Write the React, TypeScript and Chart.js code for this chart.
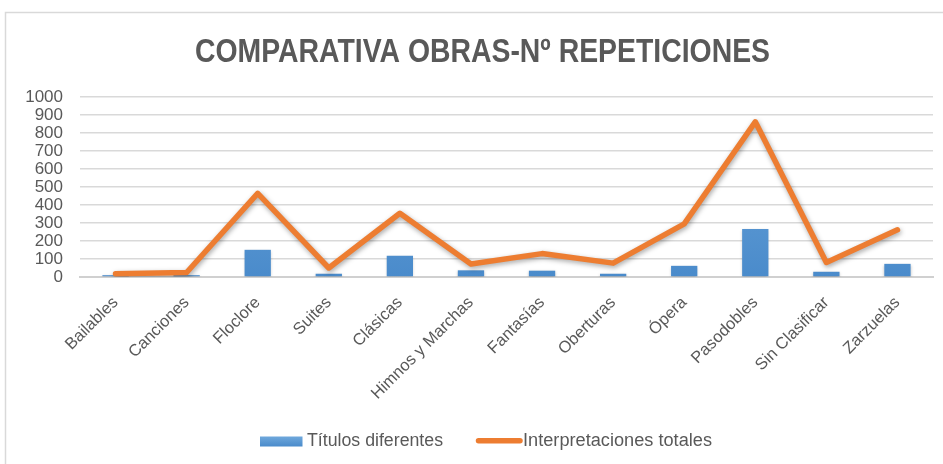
import React, { useEffect, useRef } from "react";
import { Chart, registerables } from "chart.js";

Chart.register(...registerables);

const categories = [
  "Bailables", "Canciones", "Floclore", "Suites", "Clásicas", "Himnos y Marchas",
  "Fantasías", "Oberturas", "Ópera", "Pasodobles", "Sin Clasificar", "Zarzuelas",
];
const titulosDiferentes = [10, 10, 151, 18, 118, 37, 35, 18, 62, 267, 29, 73];
const interpretacionesTotales = [18, 25, 465, 50, 354, 72, 130, 77, 295, 862, 81, 262];
const yTicks = [0, 100, 200, 300, 400, 500, 600, 700, 800, 900, 1000];

const TITLE = "COMPARATIVA OBRAS-Nº REPETICIONES";
const LEGEND_BAR = "Títulos diferentes";
const LEGEND_LINE = "Interpretaciones totales";
const GRAY = "#595959";
const BLUE = "#5B9BD5";
const ORANGE = "#ED7D31";

function fitText(ctx: CanvasRenderingContext2D, text: string, x: number, y: number, width: number, font: string) {
  ctx.save();
  ctx.font = font;
  const w = ctx.measureText(text).width;
  const s = width / w;
  ctx.translate(x, y);
  ctx.scale(s, 1);
  ctx.textAlign = "left";
  ctx.textBaseline = "alphabetic";
  ctx.fillText(text, 0, 0);
  ctx.restore();
}

const decorPlugin = {
  id: "decor",
  beforeDraw(chart: any) {
    const ctx = chart.ctx as CanvasRenderingContext2D;
    ctx.save();
    ctx.fillStyle = "#ffffff";
    ctx.fillRect(0, 0, chart.width, chart.height);
    ctx.strokeStyle = "#d9d9d9";
    ctx.lineWidth = 1.5;
    ctx.strokeRect(5.5, 12.5, 2000, 2000);
    ctx.restore();
  },
  afterDraw(chart: any) {
    const ctx = chart.ctx as CanvasRenderingContext2D;
    ctx.save();
    ctx.fillStyle = GRAY;
    // caps from y≈38 to y≈62 (baseline)
    fitText(ctx, TITLE, 195, 62, 575, "bold 33px 'Liberation Sans Narrow', 'Liberation Sans', sans-serif");
    const g = ctx.createLinearGradient(0, 436.5, 0, 446.5);
    g.addColorStop(0, "#6fa8dc");
    g.addColorStop(1, "#4a8bcb");
    ctx.fillStyle = g;
    ctx.fillRect(260, 436.5, 42.5, 10);
    ctx.fillStyle = GRAY;
    fitText(ctx, LEGEND_BAR, 307, 446, 136, "18px 'Liberation Sans Narrow', 'Liberation Sans', sans-serif");
    ctx.strokeStyle = ORANGE;
    ctx.lineWidth = 5.5;
    ctx.lineCap = "round";
    ctx.beginPath();
    ctx.moveTo(478.5, 440.8);
    ctx.lineTo(520, 440.8);
    ctx.stroke();
    fitText(ctx, LEGEND_LINE, 523, 446, 189, "18px 'Liberation Sans Narrow', 'Liberation Sans', sans-serif");
    ctx.restore();
  },
  beforeDatasetDraw(chart: any, args: any) {
    const ctx = chart.ctx as CanvasRenderingContext2D;
    ctx.save();
    if (args.meta.type === "line") {
      ctx.shadowColor = "rgba(0,0,0,0.35)";
      ctx.shadowBlur = 5;
      ctx.shadowOffsetX = 1;
      ctx.shadowOffsetY = 2;
    } else {
      ctx.shadowColor = "rgba(0,0,0,0.25)";
      ctx.shadowBlur = 3;
      ctx.shadowOffsetY = 1;
    }
  },
  afterDatasetDraw(chart: any) {
    chart.ctx.restore();
  },
};

export default function App() {
  const ref = useRef<HTMLCanvasElement | null>(null);
  useEffect(() => {
    document.body.style.margin = "0";
    const canvas = ref.current!;
    const chart = new Chart(canvas, {
      data: {
        labels: categories,
        datasets: [
          {
            type: "line",
            label: LEGEND_LINE,
            data: interpretacionesTotales,
            borderColor: ORANGE,
            backgroundColor: ORANGE,
            borderWidth: 5.5,
            borderCapStyle: "round",
            borderJoinStyle: "round",
            pointRadius: 0,
            tension: 0,
            order: 0,
          },
          {
            type: "bar",
            label: LEGEND_BAR,
            data: titulosDiferentes,
            backgroundColor: (c: any) => {
              const area = c.chart.chartArea;
              if (!area) return BLUE;
              const g = c.chart.ctx.createLinearGradient(0, area.top, 0, area.bottom);
              g.addColorStop(0, "#6fa8dc");
              g.addColorStop(1, "#4a8bcb");
              return g;
            },
            barPercentage: 0.37,
            categoryPercentage: 1,
            order: 1,
          },
        ],
      },
      options: {
        responsive: false,
        animation: false,
        layout: { padding: { top: 97, left: 0, right: 10, bottom: 0 } },
        plugins: {
          legend: { display: false },
          title: { display: false },
          tooltip: { enabled: false },
        },
        scales: {
          x: {
            grid: { display: false, drawTicks: false },
            border: { display: true, color: "#d0d0d0", width: 2 },
            ticks: {
              color: GRAY,
              font: { family: "'Liberation Sans', sans-serif", size: 16.5 },
              minRotation: 45,
              maxRotation: 45,
              padding: 16,
              autoSkip: false,
            },
            afterFit: (s: any) => { s.height = 187; },
          },
          y: {
            min: 0,
            max: 1000,
            afterBuildTicks: (s: any) => { s.ticks = yTicks.map((v) => ({ value: v })); },
            grid: { color: "#d9d9d9", lineWidth: 1.5, drawTicks: false },
            border: { display: false },
            ticks: {
              color: GRAY,
              font: { family: "'Liberation Sans', sans-serif", size: 17 },
              padding: 17,
              autoSkip: false,
              callback: (v: any) => String(v),
            },
            afterFit: (s: any) => { s.width = 80; },
          },
        },
      },
      plugins: [decorPlugin],
    } as any);
    return () => chart.destroy();
  }, []);
  return (
    <div style={{ position: "absolute", left: 0, top: 0, width: 943, height: 464 }}>
      <canvas ref={ref} width={943} height={464} style={{ display: "block" }} />
    </div>
  );
}
